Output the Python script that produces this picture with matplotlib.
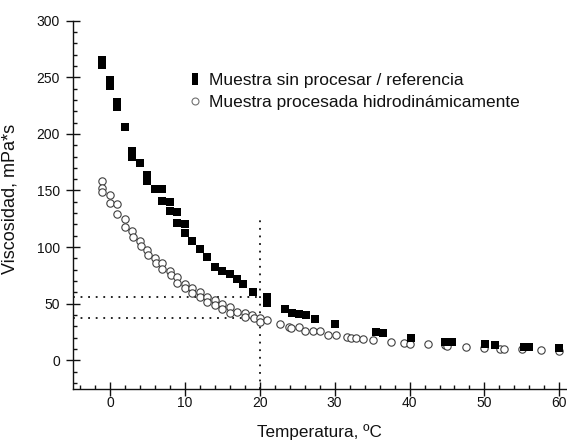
import matplotlib
matplotlib.use("Agg")
import matplotlib.pyplot as plt
from matplotlib.lines import Line2D
from matplotlib.ticker import MultipleLocator

plt.rcParams['font.family'] = ['Liberation Sans', 'DejaVu Sans']

# Muestra sin procesar / referencia (filled squares)
t_ref = [-1, -1, 0, 0, 1, 1, 2, 3, 3, 4, 5, 5, 6, 7, 7, 8, 8, 9, 9, 10, 10,
         11, 12, 13, 14, 15, 16, 17, 17.7, 19.1, 21, 21, 23.4, 24.3, 25.3,
         26.2, 27.4, 30, 35.5, 36.5, 40.2, 44.8, 45.7, 50.1, 51.4, 55.3,
         56.0, 60]
v_ref = [265, 261, 248, 242, 228, 224, 206, 185, 180, 174, 164, 158, 151,
         151, 141, 140, 132, 131, 121, 120, 112, 105, 98, 91, 82, 79, 76,
         72, 67, 60, 56, 51, 45, 42, 41, 40, 36, 32, 25, 24, 20, 16, 16,
         14, 13.5, 12, 12, 11]

# Muestra procesada hidrodinamicamente (open circles)
t_proc = [-1, -1, -1, 0, 0, 1, 1, 2, 2, 3, 3.1, 4, 4.1, 5, 5.1, 6, 6.1, 7,
          7, 8, 8.1, 9, 9, 10, 10, 11, 11, 12, 12, 13, 13, 14, 14, 15, 15,
          16, 16, 17, 18, 18, 19, 19.2, 20, 20, 21, 22.7, 23.9, 24.2, 25.3,
          26.1, 27.1, 28.1, 29.1, 30.2, 31.6, 32.2, 32.9, 33.8, 35.1, 37.5,
          39.2, 40.1, 42.5, 44.7, 45, 47.6, 50, 52.1, 52.6, 55, 57.6, 60]
v_proc = [158, 152, 149, 146, 138.5, 138, 129.6, 124.4, 117.5, 114, 109,
          105.5, 101, 97.5, 93, 90.5, 86, 85.5, 80.5, 78.5, 75, 73.8, 68.5,
          67.8, 63.4, 63.4, 59.5, 60.4, 56, 56, 51.5, 53, 48.6, 50, 45.7,
          46.6, 41.8, 42.7, 41.3, 38.3, 39.8, 37.7, 36.9, 33.9, 35.4, 31.8,
          29.5, 28.5, 29, 26, 26, 25.5, 22.7, 22.7, 20.3, 20, 19.5, 18.8,
          17.7, 16.2, 15.3, 14.7, 13.9, 13.5, 12.5, 11.8, 11, 10.3, 10.3,
          9.7, 8.8, 8.2]

# reference guide lines
guide_t = 20
guide_v_top = 125
guide_v_ref = 56
guide_v_proc = 37.5

label_ref = "Muestra sin procesar / referencia"
label_proc = "Muestra procesada hidrodinámicamente"
xlabel = "Temperatura, ºC"
ylabel = "Viscosidad, mPa*s"

fig = plt.figure(figsize=(5.67, 4.41), dpi=100)
ax = fig.add_axes([0.1279, 0.1190, 0.8718, 0.834])

ink = '#111111'
dot_style = (0, (1, 3.2))
ax.plot([guide_t, guide_t], [-25, guide_v_top], color=ink, lw=1.3,
        linestyle=dot_style, zorder=1)
ax.plot([-5, guide_t], [guide_v_ref, guide_v_ref], color=ink, lw=1.3,
        linestyle=dot_style, zorder=1)
ax.plot([-5, guide_t], [guide_v_proc, guide_v_proc], color=ink, lw=1.3,
        linestyle=dot_style, zorder=1)

ax.plot(t_proc, v_proc, linestyle='none', marker='o', ms=5.3, mfc='white',
        mec='#404040', mew=0.8, zorder=2)
ax.plot(t_ref, v_ref, linestyle='none', marker='s', ms=5.7, mfc='black',
        mec='black', mew=0, zorder=3)

rect = [(-0.3, -0.5), (0.3, -0.5), (0.3, 0.5), (-0.3, 0.5), (-0.3, -0.5)]
h_ref = Line2D([], [], linestyle='none', marker=rect, ms=8, mfc='black',
               mec='black', mew=0)
h_proc = Line2D([], [], linestyle='none', marker='o', ms=5, mfc='white',
                mec='#707070', mew=0.8)
ax.legend([h_ref, h_proc], [label_ref, label_proc], loc='upper left',
          bbox_to_anchor=(0.2347, 0.857), frameon=False, fontsize=12.5,
          handlelength=0.8, handletextpad=0.4, labelspacing=0.35,
          borderpad=0, borderaxespad=0, labelcolor=ink)

ax.set_xlim(-5, 61)
ax.set_ylim(-25, 300)
ax.xaxis.set_major_locator(MultipleLocator(10))
ax.xaxis.set_minor_locator(MultipleLocator(2))
ax.yaxis.set_major_locator(MultipleLocator(50))
ax.yaxis.set_minor_locator(MultipleLocator(10))
ax.set_yticks([0, 50, 100, 150, 200, 250, 300])

for s in ['top', 'right']:
    ax.spines[s].set_visible(False)
for s in ['left', 'bottom']:
    ax.spines[s].set_color(ink)
    ax.spines[s].set_linewidth(1.0)

ax.tick_params(axis='both', which='major', direction='inout', length=10,
               width=1.0, color=ink, labelsize=10, labelcolor=ink)
ax.tick_params(axis='both', which='minor', direction='in', length=3,
               width=1.0, color=ink)
ax.tick_params(axis='x', which='major', pad=0.5)
ax.tick_params(axis='y', which='major', pad=4)

ax.set_xlabel(xlabel, fontsize=12.3, color=ink)
ax.set_ylabel(ylabel, fontsize=13, color=ink)
ax.xaxis.set_label_coords(0.5, -0.096)
ax.yaxis.set_label_coords(-0.11, 0.515)

fig.savefig('out.png', dpi=100)
